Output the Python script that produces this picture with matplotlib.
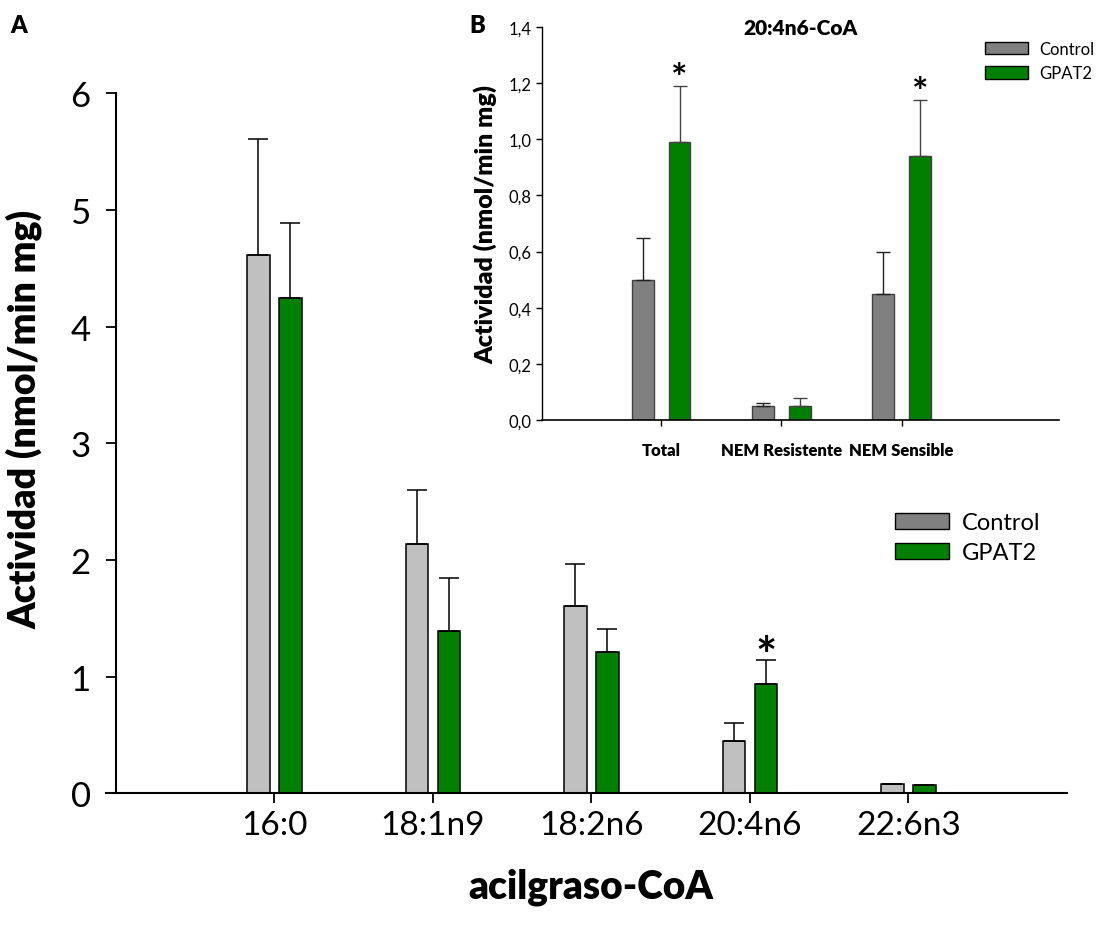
import matplotlib.pyplot as plt
import numpy as np
from matplotlib.patches import Patch

plt.rcParams['font.family'] = ['Lato', 'DejaVu Sans']

# panel A: actividad por acil-CoA
acyl_coa = ['16:0', '18:1n9', '18:2n6', '20:4n6', '22:6n3']
control_main = [4.61, 2.14, 1.61, 0.45, 0.08]
control_main_err = [1.00, 0.46, 0.36, 0.15, 0.005]
gpat2_main = [4.25, 1.39, 1.21, 0.94, 0.07]
gpat2_main_err = [0.64, 0.46, 0.20, 0.20, 0.005]
main_stars = ['', '', '', '*', '']

# panel B: 20:4n6-CoA
fractions = ['Total', 'NEM Resistente', 'NEM Sensible']
control_inset = [0.50, 0.05, 0.45]
control_inset_err = [0.15, 0.01, 0.15]
gpat2_inset = [0.99, 0.05, 0.94]
gpat2_inset_err = [0.20, 0.03, 0.20]
inset_stars = ['*', '', '*']

light_grey = '#c0c0c0'
grey = '#808080'
green = '#008000'

fig = plt.figure(figsize=(10.99, 9.28), dpi=100)

# ---- main plot
ax = fig.add_axes([0.1053, 0.1439, 0.8656, 0.7545])
x = np.arange(len(acyl_coa))
w = 0.142
off = 0.101
ax.bar(x - off, control_main, w, color=light_grey, edgecolor='black', linewidth=1.1,
       yerr=[np.zeros(len(x)), control_main_err], capsize=7, zorder=2,
       error_kw=dict(elinewidth=1.1, capthick=1.1, ecolor='black'))
ax.bar(x + off, gpat2_main, w, color=green, edgecolor='black', linewidth=1.1,
       yerr=[np.zeros(len(x)), gpat2_main_err], capsize=7, zorder=2,
       error_kw=dict(elinewidth=1.1, capthick=1.1, ecolor='black'))
for i, s in enumerate(main_stars):
    if s:
        ax.text(x[i] + off, gpat2_main[i] + gpat2_main_err[i] - 0.17, s,
                ha='center', va='bottom', fontsize=36, fontweight='bold')

ax.set_xlim(-1, 5)
ax.set_ylim(0, 6)
ax.set_xticks(x)
ax.set_xticklabels(acyl_coa, fontsize=24)
ax.set_yticks(range(7))
ax.set_yticklabels([str(v) for v in range(7)], fontsize=25)
ax.tick_params(axis='y', length=7, width=1.3, pad=11)
ax.tick_params(axis='x', length=7, width=1.3, pad=5)
for side in ['top', 'right']:
    ax.spines[side].set_visible(False)
ax.spines['left'].set_linewidth(1.5)
ax.spines['bottom'].set_linewidth(1.5)
ax.spines['bottom'].set_bounds(-1.06, 5)
ax.set_ylabel('Actividad (nmol/min mg)', fontsize=27, fontweight='heavy')
ax.yaxis.set_label_coords(-0.077, 0.535)
ax.set_xlabel('acilgraso-CoA', fontsize=28, fontweight='heavy', labelpad=20)

ax.legend(handles=[Patch(facecolor=grey, edgecolor='black', linewidth=1, label='Control'),
                   Patch(facecolor=green, edgecolor='black', linewidth=1, label='GPAT2')],
          loc='upper left', bbox_to_anchor=(0.814, 0.447), bbox_transform=fig.transFigure,
          frameon=False, handlelength=2.3, handleheight=0.64,
          handletextpad=0.57, labelspacing=0.38, borderpad=0, borderaxespad=0,
          prop={'size': 17})

# ---- inset
ins = fig.add_axes([0.4934, 0.5463, 0.4702, 0.4235])
xi = np.arange(len(fractions))
wi = 0.18
offi = 0.153
ins.bar(xi - offi, control_inset, wi, color=grey, edgecolor='#404040', linewidth=1,
        yerr=[np.zeros(len(xi)), control_inset_err], capsize=5, zorder=2,
        error_kw=dict(elinewidth=1, capthick=1, ecolor='#222222'))
ins.bar(xi + offi, gpat2_inset, wi, color=green, edgecolor='#404040', linewidth=1,
        yerr=[np.zeros(len(xi)), gpat2_inset_err], capsize=5, zorder=2,
        error_kw=dict(elinewidth=1, capthick=1, ecolor='#444444'))
for i, s in enumerate(inset_stars):
    if s:
        ins.text(xi[i] + offi, gpat2_inset[i] + gpat2_inset_err[i] - 0.035, s,
                 ha='center', va='bottom', fontsize=28, fontweight='bold')

ins.set_xlim(-0.99, 3.31)
ins.set_ylim(0, 1.4)
ins.set_xticks(xi)
ins.set_xticklabels(fractions, fontsize=12, fontweight='heavy')
yt = np.arange(0, 1.41, 0.2)
ins.set_yticks(yt)
ins.set_yticklabels([f'{v:.1f}'.replace('.', ',') for v in yt], fontsize=12)
ins.tick_params(axis='y', length=4, width=1, pad=4)
ins.tick_params(axis='x', length=4, width=1, pad=12)
for side in ['top', 'right']:
    ins.spines[side].set_visible(False)
ins.spines['left'].set_linewidth(1)
ins.spines['bottom'].set_linewidth(1.2)
ins.set_ylabel('Actividad (nmol/min mg)', fontsize=18, fontweight='heavy', labelpad=8)
ins.text(0.5, 1.0, '20:4n6-CoA', transform=ins.transAxes, ha='center', va='center',
         fontsize=15, fontweight='heavy')

ins.legend(handles=[Patch(facecolor=grey, edgecolor='black', linewidth=1, label='Control'),
                    Patch(facecolor=green, edgecolor='black', linewidth=1, label='GPAT2')],
           loc='upper left', bbox_to_anchor=(0.896, 0.955), bbox_transform=fig.transFigure,
           frameon=False, handlelength=2.6, handleheight=0.78,
           handletextpad=0.65, labelspacing=0.5, borderpad=0, borderaxespad=0,
           prop={'size': 12})

fig.text(0.009, 0.972, 'A', fontsize=17, fontweight='heavy', va='center')
fig.text(0.427, 0.972, 'B', fontsize=17, fontweight='heavy', va='center')

fig.savefig('out.png', dpi=100)
